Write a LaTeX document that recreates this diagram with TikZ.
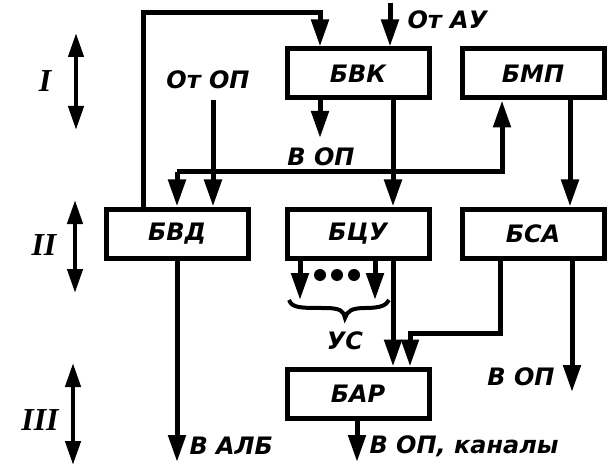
\documentclass[tikz,border=0pt]{standalone}
\usepackage{fontspec}
\setmainfont{DejaVu Sans}
\newfontfamily\romfont{Liberation Serif}
\usetikzlibrary{positioning}
\usetikzlibrary{calc}
\usetikzlibrary{arrows.meta}

\begin{document}
\begin{tikzpicture}[x=1pt, y=-1pt, node distance = 160pt and 175pt, on grid, line width=5pt, block/.style ={draw, line width=5pt, minimum width=142pt, minimum height=49pt, inner sep=0pt, font=\fontsize{24}{28}\selectfont\bfseries\itshape}, lbl/.style={inner sep=1pt, font=\fontsize{24}{28}\selectfont\bfseries\itshape}, rom/.style={inner sep=1pt, font=\fontsize{32}{36}\selectfont\romfont\bfseries\itshape}, arr/.style={-{Triangle[length=27pt,width=17pt]}}, dbl/.style={{Triangle[length=24pt,width=15pt]}-{Triangle[length=24pt,width=15pt]}, line width=4.4pt}]
\useasboundingbox (0,0) rectangle (610,473);
% blocks
\node[block] (bvk) at (358,73.5) {БВК};
\node[block] (bmp) [right = of bvk] {БМП};
\node[block] (bcu) [below = of bvk] {БЦУ};
\node[block] (bvd) [left = 181pt of bcu] {БВД};
\node[block] (bsa) [right = of bcu] {БСА};
\node[block] (bar) [below = of bcu] {БАР};
% free ends
\coordinate (loopT) at (143,13);
\coordinate (ayu) at (390,3);
\coordinate (opTop) at (213,100);
\coordinate (vop1) at (320,138);
\coordinate (busL) at (177,172);
\coordinate (busR) at (502,172);
\coordinate (us1) at (300,300);
\coordinate (us2) at (375,300);
\coordinate (join) at (410,333);
\coordinate (vop2) at (572,392);
\coordinate (valb) at (177,462);
\coordinate (vkan) at (357,462);
% labels
\node[lbl, anchor=west] (ayuL) at (404,20) {От АУ};
\node[lbl] (opL) at (208,80) {От ОП};
\node[lbl] (vop1L) at (321,157) {В ОП};
\node[lbl] (usL) at (345,341) {УС};
\node[lbl, anchor=east] (vop2L) at (558,377) {В ОП};
\node[lbl, anchor=west] (valbL) at (186,446) {В АЛБ};
\node[lbl, anchor=west] (vkanL) at (366,446) {В ОП, каналы};
% connectors
\draw[arr] (loopT |- bvd.north) -- (loopT) -| ([xshift=-38pt]bvk.north);
\draw[arr] (ayu) -- (ayu |- bvk.north);
\draw[arr] (opTop) -- (opTop |- bvd.north);
\draw[arr] (vop1 |- bvk.south) -- (vop1);
\draw[arr] ([xshift=35pt]bvk.south) -- ([xshift=35pt]bvk.south |- bcu.north);
\draw[arr] (busL) -- (busL |- bvd.north);
\draw[arr] (busL) -- (busR) -- (busR |- bmp.south);
\draw[arr] ([xshift=37pt]bmp.south) -- ([xshift=37pt]bmp.south |- bsa.north);
\draw[arr] (us1 |- bcu.south) -- (us1);
\draw[arr] (us2 |- bcu.south) -- (us2);
\draw[arr] ([xshift=35pt]bcu.south) -- ([xshift=35pt]bcu.south |- bar.north);
\draw[arr] ([xshift=-33pt]bsa.south) |- (join) -- (join |- bar.north);
\draw[arr] (vop2 |- bsa.south) -- (vop2);
\draw[arr] (bvd.south) -- (valb);
\draw[arr] (vkan |- bar.south) -- (vkan);
% dots and brace
\fill (320,275) circle (6pt) (337,275) circle (6pt) (354,275) circle (6pt);
\draw[line width=4pt] (289,300) .. controls (292,308) and (300,308) .. (325,308) .. controls (340,308) and (344,311) .. (345,318) .. controls (347,311) and (352,308) .. (365,308) .. controls (382,308) and (386,305) .. (389,300);
% levels
\coordinate (l1a) at (76,33);
\coordinate (l1b) at (76,130);
\coordinate (l2a) at (75,200);
\coordinate (l2b) at (75,293);
\coordinate (l3a) at (73,363);
\coordinate (l3b) at (73,465);
\draw[dbl] (l1a) -- (l1b);
\draw[dbl] (l2a) -- (l2b);
\draw[dbl] (l3a) -- (l3b);
\node[rom] (r1) at (45,81) {I};
\node[rom] (r2) at (44,245) {II};
\node[rom] (r3) at (40,420) {III};
\end{tikzpicture}
\end{document}
